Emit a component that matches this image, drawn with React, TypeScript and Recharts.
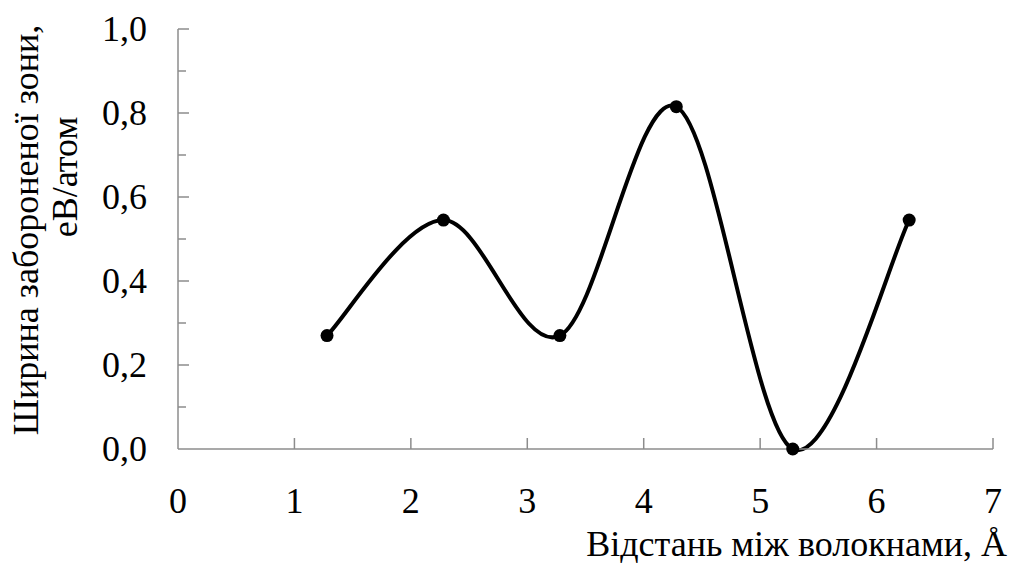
import React from 'react';
import { LineChart, Line, XAxis, YAxis } from 'recharts';

// distance between fibres, Å
const distances = [1.28, 2.28, 3.28, 4.28, 5.28, 6.28];
// band gap, eV/atom
const bandGaps = [0.27, 0.545, 0.27, 0.815, 0.0, 0.545];

const xTicks = [0, 1, 2, 3, 4, 5, 6, 7];
const yTicks = [0, 0.1, 0.2, 0.3, 0.4, 0.5, 0.6, 0.7, 0.8, 0.9, 1.0];

const yTitleLine1 = 'Ширина забороненої зони,';
const yTitleLine2 = 'еВ/атом';
const xTitle = 'Відстань між волокнами, \u00C5';

const FONT = 'Liberation Serif, Tinos, Times New Roman, serif';
const textStyle = { fontFamily: FONT, fontSize: 36 };
const AXIS_COLOR = '#8c8c8c';

const data = distances.map((d, i) => ({ x: d, y: bandGaps[i] }));

// Excel-like smoothed line: cubic bezier with tangents (P[i+1]-P[i-1])/6
const excelCurve = (context: any) => {
    let pts: [number, number][] = [];
    return {
        areaStart() {},
        areaEnd() {},
        lineStart() {
            pts = [];
        },
        point(x: number, y: number) {
            pts.push([+x, +y]);
        },
        lineEnd() {
            if (!pts.length) return;
            context.moveTo(pts[0][0], pts[0][1]);
            const n = pts.length;
            for (let i = 0; i < n - 1; i++) {
                const p0 = pts[Math.max(i - 1, 0)];
                const p1 = pts[i];
                const p2 = pts[i + 1];
                const p3 = pts[Math.min(i + 2, n - 1)];
                context.bezierCurveTo(
                    p1[0] + (p2[0] - p0[0]) / 6,
                    p1[1] + (p2[1] - p0[1]) / 6,
                    p2[0] - (p3[0] - p1[0]) / 6,
                    p2[1] - (p3[1] - p1[1]) / 6,
                    p2[0],
                    p2[1]
                );
            }
        },
    };
};

const XTick = ({ x, y, payload }: any) => (
    <g>
        {payload.value !== 0 && (
            <line x1={x} x2={x} y1={y} y2={y - 11} stroke={AXIS_COLOR} strokeWidth={1.5} />
        )}
        <text x={x} y={y + 64} textAnchor="middle" style={textStyle} fill="#000">
            {payload.value}
        </text>
    </g>
);

const YTick = ({ x, y, payload, index }: any) => {
    const major = index % 2 === 0;
    return (
        <g>
            {payload.value !== 0 && (
                <line
                    x1={x}
                    x2={x + (major ? 11 : 8)}
                    y1={y}
                    y2={y}
                    stroke={AXIS_COLOR}
                    strokeWidth={1.5}
                />
            )}
            {major && (
                <text x={x - 31} y={y + 12} textAnchor="end" style={textStyle} fill="#000">
                    {payload.value.toFixed(1).replace('.', ',')}
                </text>
            )}
        </g>
    );
};

export default function App() {
    return (
        <div
            style={{
                position: 'absolute',
                left: 0,
                top: 0,
                width: 1011,
                height: 565,
                background: '#fff',
                fontFamily: FONT,
            }}
        >
            <LineChart
                width={1011}
                height={565}
                data={data}
                margin={{ top: 29, right: 18, bottom: 0, left: 0 }}
            >
                <XAxis
                    dataKey="x"
                    type="number"
                    domain={[0, 7]}
                    ticks={xTicks}
                    interval={0}
                    height={116}
                    tickSize={0}
                    tickMargin={0}
                    tickLine={false}
                    tick={<XTick />}
                    axisLine={{ stroke: AXIS_COLOR, strokeWidth: 1.5 }}
                    label={{
                        content: () => (
                            <text x={1007} y={556} textAnchor="end" style={textStyle} fill="#000">
                                {xTitle}
                            </text>
                        ),
                    }}
                />
                <YAxis
                    type="number"
                    domain={[0, 1]}
                    ticks={yTicks}
                    interval={0}
                    width={178}
                    tickSize={0}
                    tickMargin={0}
                    tickLine={false}
                    tick={<YTick />}
                    axisLine={{ stroke: AXIS_COLOR, strokeWidth: 1.5 }}
                    label={{
                        content: () => (
                            <g>
                                <text
                                    transform="translate(38, 230) rotate(-90)"
                                    textAnchor="middle"
                                    style={textStyle}
                                    fill="#000"
                                >
                                    {yTitleLine1}
                                </text>
                                <text
                                    transform="translate(77, 177) rotate(-90)"
                                    textAnchor="middle"
                                    style={textStyle}
                                    fill="#000"
                                >
                                    {yTitleLine2}
                                </text>
                            </g>
                        ),
                    }}
                />
                <Line
                    dataKey="y"
                    type={excelCurve as any}
                    stroke="#000"
                    strokeWidth={4}
                    dot={{ r: 6.5, fill: '#000', stroke: '#000', strokeWidth: 0 }}
                    activeDot={false}
                    isAnimationActive={false}
                />
            </LineChart>
        </div>
    );
}
